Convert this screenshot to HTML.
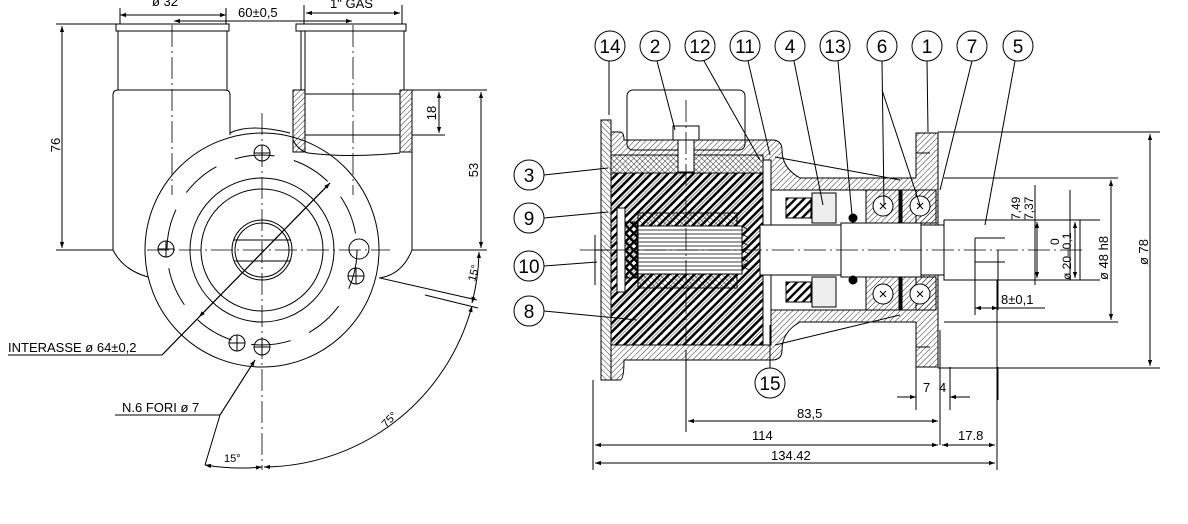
<!DOCTYPE html>
<html><head><meta charset="utf-8"><style>
html,body{margin:0;padding:0;background:#fff;}
svg{display:block}
text{font-family:"Liberation Sans","DejaVu Sans",sans-serif;fill:#000}
</style></head><body>
<svg width="1188" height="524" viewBox="0 0 1188 524" xmlns="http://www.w3.org/2000/svg">
<defs>
<pattern id="h1" width="4" height="4" patternUnits="userSpaceOnUse" patternTransform="rotate(45)"><line x1="0" y1="0" x2="0" y2="4" stroke="#000" stroke-width="0.8"/></pattern>
<pattern id="h2" width="6" height="6" patternUnits="userSpaceOnUse" patternTransform="rotate(45)"><rect width="2.4" height="6" fill="#000"/></pattern>
<pattern id="h3" width="4" height="4" patternUnits="userSpaceOnUse" patternTransform="rotate(-45)"><line x1="0" y1="0" x2="0" y2="4" stroke="#000" stroke-width="0.8"/></pattern>
<pattern id="h4" width="6" height="6" patternUnits="userSpaceOnUse" patternTransform="rotate(-45)"><rect width="2.4" height="6" fill="#000"/></pattern>
<marker id="a" viewBox="0 0 10 10" refX="10" refY="5" markerWidth="9" markerHeight="6" orient="auto-start-reverse" markerUnits="userSpaceOnUse"><path d="M0,1.5 L10,5 L0,8.5z" fill="#000"/></marker>
</defs>
<g fill="none" stroke="#000" stroke-width="1">
<!-- LEFT VIEW -->
<circle cx="262" cy="250" r="117"/>
<circle cx="262" cy="250" r="72"/>
<circle cx="262" cy="250" r="61"/>
<circle cx="262" cy="250" r="30"/>
<circle cx="262" cy="250" r="27"/>
<line x1="234" y1="240" x2="291" y2="240"/><line x1="234" y1="261" x2="291" y2="261"/>
<g stroke-dasharray="30,8">
<circle cx="262" cy="250" r="95" stroke-dasharray="40,20"/>
</g>
<circle cx="262" cy="153" r="8"/><circle cx="166" cy="249" r="8"/><circle cx="359" cy="249" r="10"/>
<circle cx="356" cy="276" r="8"/><circle cx="237" cy="343" r="8"/><circle cx="262" cy="347" r="8"/>
<path d="M254,153h16M262,145v16M158,249h16M166,241v16M348,276h16M356,268v16M229,343h16M237,335v16M254,347h16M262,339v16"/>
<!-- pipes -->
<rect x="116" y="24" width="113" height="7"/>
<path d="M118,31V90M227,31V90"/>
<path d="M230,135V95q0,-5 -5,-5H118q-5,0 -5,5V250"/>
<path d="M113,250q10,20 35,27"/>
<rect x="296" y="24" width="110" height="7"/>
<path d="M301,31V90M404,31V90M305,31V90"/>
<rect x="293" y="90" width="12" height="62" fill="url(#h1)"/>
<rect x="400" y="90" width="12" height="62" fill="url(#h1)"/>
<path d="M305,94H400M305,135H400"/>
<path d="M293,140q5,10 15,13q40,5 92,0M412,152V250q-10,25 -33,28"/>
<path d="M230,133q20,-10 60,0"/>
<!-- center lines -->
<g stroke-width="0.8" stroke-dasharray="22,4,2,4">
<line x1="262" y1="113" x2="262" y2="470"/>
<line x1="147" y1="250" x2="390" y2="250"/>
<line x1="172" y1="25" x2="172" y2="195"/>
<line x1="353" y1="25" x2="353" y2="195"/>
</g>
<!-- dims left -->
<path d="M56,24H116M56,250H113M62,26V248" />
<line x1="62" y1="26" x2="62" y2="248" marker-start="url(#a)" marker-end="url(#a)"/>
<path d="M412,90H487M412,250H487M412,135H445"/>
<line x1="481" y1="92" x2="481" y2="248" marker-start="url(#a)" marker-end="url(#a)"/>
<line x1="439" y1="92" x2="439" y2="133" marker-start="url(#a)" marker-end="url(#a)"/>
<line x1="120" y1="15" x2="226" y2="15" marker-start="url(#a)" marker-end="url(#a)"/>
<line x1="174" y1="21" x2="352" y2="21" marker-start="url(#a)" marker-end="url(#a)"/>
<line x1="306" y1="13" x2="400" y2="13" marker-start="url(#a)" marker-end="url(#a)"/>
<path d="M120,8V24M226,8V24M304,5V24M402,5V24"/>
<path d="M8,355H162L330,183" /><line x1="162" y1="355" x2="330" y2="183" marker-end="url(#a)"/>
<line x1="330" y1="183" x2="199" y2="317" marker-end="url(#a)"/>
<path d="M115,415H220L255,360"/><line x1="220" y1="415" x2="255" y2="360" marker-end="url(#a)"/>
<path d="M220,415L205,465"/>
<path d="M205,465 A217,217 0 0 0 262,467" marker-start="url(#a)" marker-end="url(#a)"/>
<path d="M264,467 A217,217 0 0 0 472,306" marker-start="url(#a)" marker-end="url(#a)"/>
<path d="M472,303 A217,217 0 0 0 479,252" marker-start="url(#a)" marker-end="url(#a)"/>
<path d="M425,295L478,308M380,278L477,300"/>

<!-- RIGHT VIEW -->
<rect x="627" y="90" width="118" height="60" rx="6"/>
<!-- body top & bottom walls -->
<path d="M611,132H620Q624,132 624,140H772Q782,140 782,150Q782,168 800,178H916V133H938V367H916V322H800Q782,332 782,350Q782,360 772,360H624Q624,380 620,380H611Z" fill="url(#h1)"/>
<rect x="601" y="120" width="10" height="260" fill="url(#h3)"/>
<rect x="611" y="155" width="152" height="18" fill="url(#h3)"/>
<rect x="611" y="173" width="152" height="172" fill="url(#h2)"/>
<rect x="763" y="160" width="8" height="185" fill="#fff"/>
<rect x="771" y="190" width="145" height="120" fill="#fff"/>
<rect x="617" y="208" width="8" height="84" fill="#fff"/>
<rect x="625" y="222" width="12" height="56" fill="url(#h4)"/>
<rect x="638" y="213" width="99" height="75" fill="url(#h3)"/>
<rect x="638" y="226" width="104" height="48" fill="#fff"/>
<g stroke-width="0.8"><path d="M638,230H742M638,234H742M638,238H742M638,242H742M638,246H742M638,250H742M638,254H742M638,258H742M638,262H742M638,266H742M638,270H742"/><path d="M742,226l7,4-7,4 7,4-7,4 7,4-7,4 7,4-7,4 7,4-7,4 7,4"/></g>
<rect x="680" y="90" width="12" height="2" stroke="none"/>
<rect x="673" y="126" width="26" height="14" fill="#fff"/>
<rect x="678" y="140" width="16" height="32" fill="#fff"/>
<!-- shaft -->
<rect x="760" y="225" width="184" height="50" fill="#fff"/>
<rect x="841" y="223" width="80" height="54" fill="#fff"/>
<rect x="944" y="220" width="136" height="60" fill="#fff"/>
<path d="M975,238H1005M975,262H1005M975,238V262"/>
<!-- seals -->
<rect x="786" y="198" width="25" height="20" fill="url(#h2)"/>
<rect x="786" y="282" width="25" height="20" fill="url(#h2)"/>
<rect x="812" y="193" width="24" height="30" fill="#eee"/>
<rect x="812" y="277" width="24" height="30" fill="#eee"/>
<circle cx="853" cy="218" r="4" fill="#000"/><circle cx="853" cy="280" r="4" fill="#000"/>
<!-- bearings -->
<rect x="866" y="190" width="70" height="33" fill="url(#h1)"/>
<rect x="866" y="277" width="70" height="33" fill="url(#h1)"/>
<circle cx="883" cy="206" r="10" fill="#fff"/><circle cx="920" cy="206" r="10" fill="#fff"/>
<circle cx="883" cy="294" r="10" fill="#fff"/><circle cx="920" cy="294" r="10" fill="#fff"/>
<rect x="899" y="190" width="3" height="33" fill="#000"/><rect x="899" y="277" width="3" height="33" fill="#000"/>
<path d="M880,203l6,6M886,203l-6,6M917,203l6,6M923,203l-6,6M880,291l6,6M886,291l-6,6M917,291l6,6M923,291l-6,6"/>
<path d="M916,153H930M916,347H930M595,235V285M595,250H610"/>
<g stroke-width="0.8" stroke-dasharray="22,4,2,4"><line x1="580" y1="250" x2="1085" y2="250"/><line x1="686" y1="100" x2="686" y2="345"/></g>
<!-- right dims -->
<path d="M938,132H1160M938,368H1160M944,178H1118M944,322H1118M1080,220H1100M1080,280H1100M1035,185V285M1070,190V280"/>
<line x1="1150" y1="134" x2="1150" y2="366" marker-start="url(#a)" marker-end="url(#a)"/>
<line x1="1111" y1="180" x2="1111" y2="320" marker-start="url(#a)" marker-end="url(#a)"/>
<line x1="1037" y1="222" x2="1037" y2="278" marker-start="url(#a)" marker-end="url(#a)"/>
<line x1="1075" y1="222" x2="1075" y2="278" marker-start="url(#a)" marker-end="url(#a)"/>
<path d="M975,262V315M998,250V310M975,308H1045"/>
<line x1="975" y1="308" x2="998" y2="308" marker-start="url(#a)" marker-end="url(#a)"/>
<!-- bottom dims -->
<path d="M593,380V470M686,350V432M940,330V445M997,280V470M916,367V410M950,367V410M998,367V400"/>
<line x1="688" y1="421" x2="938" y2="421" marker-start="url(#a)" marker-end="url(#a)"/>
<line x1="595" y1="445" x2="938" y2="445" marker-start="url(#a)" marker-end="url(#a)"/>
<line x1="942" y1="445" x2="995" y2="445" marker-start="url(#a)" marker-end="url(#a)"/>
<line x1="595" y1="463" x2="995" y2="463" marker-start="url(#a)" marker-end="url(#a)"/>
<line x1="897" y1="397" x2="916" y2="397" marker-end="url(#a)"/>
<line x1="970" y1="397" x2="950" y2="397" marker-end="url(#a)"/>
<!-- balloons -->
<g>
<circle cx="610" cy="46" r="15"/><circle cx="655" cy="46" r="15"/><circle cx="700" cy="46" r="15"/><circle cx="745" cy="46" r="15"/><circle cx="790" cy="46" r="15"/><circle cx="835" cy="46" r="15"/><circle cx="882" cy="46" r="15"/><circle cx="927" cy="46" r="15"/><circle cx="972" cy="46" r="15"/><circle cx="1018" cy="46" r="15"/>
<circle cx="529" cy="175" r="15"/><circle cx="529" cy="218" r="15"/><circle cx="529" cy="266" r="15"/><circle cx="529" cy="311" r="15"/><circle cx="770" cy="383" r="15"/>
</g>
<path d="M609,61V115M657,61L675,130M704,61L760,160M748,61L770,155M794,61L823,205M838,61L852,215M882,61L884,205M882,90L920,205M927,61L928,132M972,61L940,190M1015,61L985,225M544,175L608,168M544,218L608,212M544,266L597,262M544,311L637,320M770,368V325M775,157L900,180M775,345L900,315"/>
</g>
<g font-size="13">
<text x="152" y="6">ø 32</text>
<text x="238" y="17">60±0,5</text>
<text x="330" y="8">1" GAS</text>
<text x="8" y="352">INTERASSE ø 64±0,2</text>
<text x="122" y="412">N.6 FORI ø 7</text>
<text transform="translate(60,145) rotate(-90)" text-anchor="middle">76</text>
<text transform="translate(478,170) rotate(-90)" text-anchor="middle">53</text>
<text transform="translate(436,113) rotate(-90)" text-anchor="middle">18</text>
<text transform="translate(475,282) rotate(-75)" font-size="11">15°</text>
<text transform="translate(386,428) rotate(-45)" font-size="11">75°</text>
<text x="224" y="462" font-size="11">15°</text>
<text x="797" y="418">83,5</text>
<text x="752" y="440">114</text>
<text x="958" y="440">17.8</text>
<text x="771" y="460">134.42</text>
<text x="923" y="392">7</text><text x="939" y="392">4</text>
<text x="1001" y="304">8±0,1</text>
<text transform="translate(1020,220) rotate(-90)" font-size="12">7,49</text>
<text transform="translate(1033,220) rotate(-90)" font-size="12">7,37</text>
<text transform="translate(1059,245) rotate(-90)" font-size="12">0</text>
<text transform="translate(1071,280) rotate(-90)" font-size="12">ø 20–0,1</text>
<text transform="translate(1108,280) rotate(-90)" font-size="13">ø 48 h8</text>
<text transform="translate(1148,265) rotate(-90)" font-size="13">ø 78</text>
</g>
<g font-size="19" text-anchor="middle">
<text x="610" y="53">14</text><text x="655" y="53">2</text><text x="700" y="53">12</text><text x="745" y="53">11</text><text x="790" y="53">4</text><text x="835" y="53">13</text><text x="882" y="53">6</text><text x="927" y="53">1</text><text x="972" y="53">7</text><text x="1018" y="53">5</text>
<text x="529" y="182">3</text><text x="529" y="225">9</text><text x="529" y="273">10</text><text x="529" y="318">8</text><text x="770" y="390">15</text>
</g>
</svg>
</body></html>
